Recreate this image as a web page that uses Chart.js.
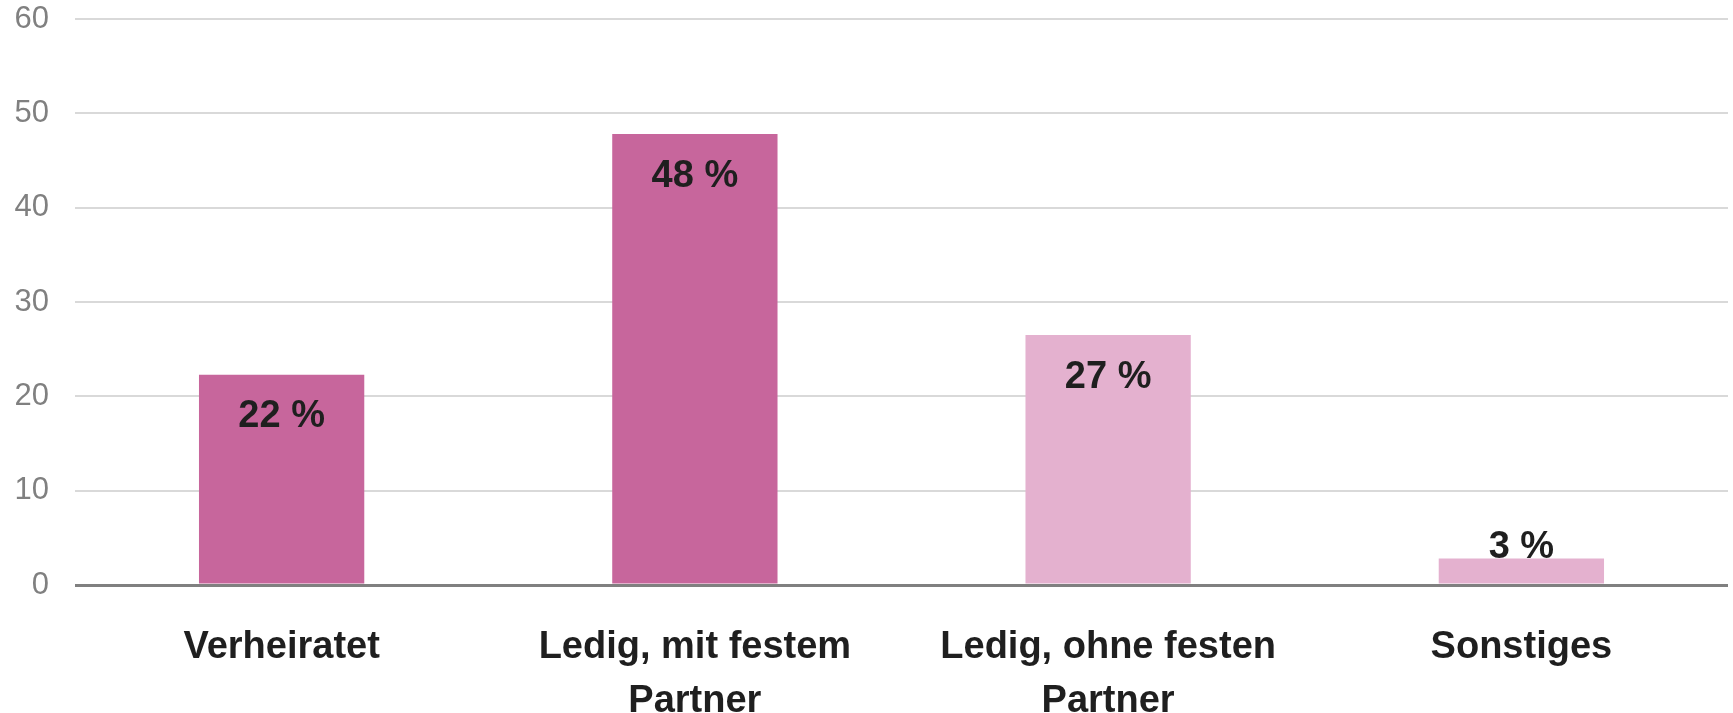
<!DOCTYPE html>
<html>
<head>
<meta charset="utf-8">
<script src="https://cdn.jsdelivr.net/npm/chart.js@4.4.0/dist/chart.umd.min.js"></script>
<style>
  body { margin: 0; background: #fff; }
  #wrap { width: 1733px; height: 713px; }
</style>
</head>
<body>
<div id="wrap"><canvas id="grafica"></canvas></div>
<script>
// Datos
const categorias = [
  "Verheiratet",
  ["Ledig, mit festem", "Partner"],
  ["Ledig, ohne festen", "Partner"],
  "Sonstiges"
];
const valores = [22.3, 47.8, 26.5, 2.8];
const etiquetas = ["22 %", "48 %", "27 %", "3 %"];
const ticksY = [0, 10, 20, 30, 40, 50, 60];

const colores = ["#c7669c", "#c7669c", "#e4b1cf", "#e4b1cf"];

// Etiquetas de datos dentro (o encima) de las barras
const etiquetasPlugin = {
  id: "etiquetas",
  afterDatasetsDraw(chart) {
    const ctx = chart.ctx;
    const meta = chart.getDatasetMeta(0);
    ctx.save();
    ctx.font = "bold 38px 'Liberation Sans', Arial, sans-serif";
    ctx.fillStyle = "#1f1f1f";
    ctx.textAlign = "center";
    ctx.textBaseline = "middle";
    meta.data.forEach(function (bar, i) {
      const alto = bar.base - bar.y;
      const y = alto > 60 ? bar.y + 42 : bar.y - 11;
      ctx.fillText(etiquetas[i], bar.x, y);
    });
    ctx.restore();
  }
};

new Chart(document.getElementById("grafica"), {
  type: "bar",
  data: {
    labels: categorias,
    datasets: [{
      data: valores,
      backgroundColor: colores,
      categoryPercentage: 0.8,
      barPercentage: 0.5
    }]
  },
  options: {
    responsive: true,
    maintainAspectRatio: false,
    animation: false,
    layout: { padding: { left: 0, right: 5, top: 19, bottom: 0 } },
    plugins: {
      legend: { display: false },
      tooltip: { enabled: false }
    },
    scales: {
      x: {
        grid: { display: false },
        border: { display: false },
        ticks: {
          padding: 28,
          maxRotation: 0,
          autoSkip: false,
          color: "#1f1f1f",
          font: { family: "'Liberation Sans', Arial, sans-serif", size: 38, weight: "bold", lineHeight: 1.42 }
        },
        afterFit: function (s) {
          s.height = 128;
          s.paddingLeft = 0;
          s.paddingRight = 0;
        }
      },
      y: {
        min: 0,
        max: 60,
        afterBuildTicks: function (s) { s.ticks = ticksY.map(v => ({ value: v })); },
        grid: {
          drawTicks: false,
          color: c => c.tick && c.tick.value === 0 ? "#808080" : "#d9d9d9",
          lineWidth: c => c.tick && c.tick.value === 0 ? 3 : 2
        },
        border: { display: false },
        ticks: {
          padding: 26,
          color: "#808080",
          font: { family: "'Liberation Sans', Arial, sans-serif", size: 31 }
        },
        afterFit: function (s) {
          s.width = 75;
          s.paddingTop = 0;
          s.paddingBottom = 0;
        }
      }
    }
  },
  plugins: [etiquetasPlugin]
});
</script>
</body>
</html>
